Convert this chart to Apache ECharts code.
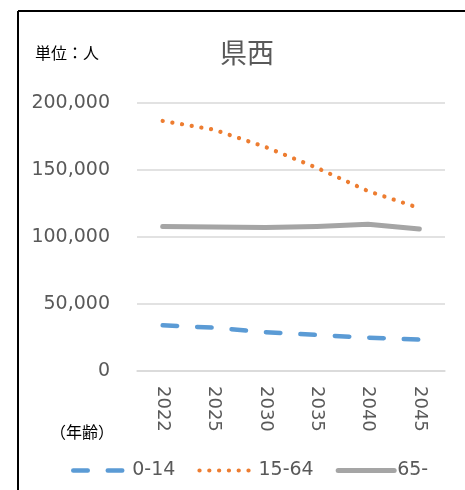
<!DOCTYPE html>
<html>
<head>
<meta charset="utf-8">
<script src="https://cdn.jsdelivr.net/npm/echarts@6/dist/echarts.min.js"></script>
<style>
  html, body { margin: 0; padding: 0; background: #fff; }
  #chart { width: 465px; height: 490px; }
</style>
</head>
<body>
<div id="chart"></div>
<script>
// Population projection by age group (persons)
const years = ['2022', '2025', '2030', '2035', '2040', '2045'];
const age0to14 = [34100, 32300, 29000, 26900, 24900, 23400];
const age15to64 = [186600, 180100, 167200, 151700, 134300, 121600];
const age65plus = [107800, 107500, 107000, 107900, 109600, 106000];
const seriesNames = ['0-14', '15-64', '65-'];
const yTicks = { min: 0, max: 200000, interval: 50000 };

const textColor = '#595959';
const latin = "'DejaVu Sans', 'Noto Sans CJK JP', sans-serif";
const cjk = "'Noto Sans CJK JP', sans-serif";

const styles = {
  '0-14': { color: '#5B9BD5', width: 4.5, type: [14.5, 20], cap: 'round' },
  '15-64': { color: '#ED7D31', width: 4.2, type: [0.1, 9.7], cap: 'round' },
  '65-': { color: '#A5A5A5', width: 5, type: 'solid', cap: 'round', join: 'round' }
};

const chart = echarts.init(document.getElementById('chart'), null, { renderer: 'canvas' });

chart.setOption({
  animation: false,
  backgroundColor: '#ffffff',
  grid: { left: 137, right: 20, top: 103, bottom: 119, containLabel: false },
  graphic: [
    { type: 'line', shape: { x1: 18, y1: 11, x2: 470, y2: 11 }, style: { stroke: '#000', lineWidth: 2 } },
    { type: 'line', shape: { x1: 18, y1: 11, x2: 18, y2: 495 }, style: { stroke: '#000', lineWidth: 2 } },
    { type: 'text', x: 247, y: 53, style: { text: '県西', font: '27px ' + cjk, fill: textColor, textAlign: 'center', textVerticalAlign: 'middle' } },
    { type: 'text', x: 67, y: 53, style: { text: '単位：人', font: '16px ' + cjk, fill: '#000', textAlign: 'center', textVerticalAlign: 'middle' } },
    { type: 'text', x: 82, y: 432, style: { text: '（年齢）', font: '16px ' + cjk, fill: '#000', textAlign: 'center', textVerticalAlign: 'middle' } }
  ],
  legend: {
    left: 66,
    top: 456,
    itemWidth: 56,
    itemHeight: 14,
    itemGap: 22,
    textStyle: { fontSize: 19, color: textColor, fontFamily: latin, padding: [0, 0, 0, -2] },
    data: seriesNames.map(n => ({
      name: n,
      itemStyle: { opacity: 0 },
      lineStyle: { width: styles[n].width, type: styles[n].type, cap: styles[n].cap, color: styles[n].color }
    }))
  },
  xAxis: {
    type: 'category',
    data: years,
    boundaryGap: true,
    axisLine: { show: true, lineStyle: { color: '#D9D9D9', width: 1.5 } },
    axisTick: { show: false },
    axisLabel: { rotate: -90, margin: 15, fontSize: 18, color: textColor, fontFamily: latin }
  },
  yAxis: {
    type: 'value',
    min: yTicks.min,
    max: yTicks.max,
    interval: yTicks.interval,
    axisLine: { show: false },
    axisTick: { show: false },
    splitLine: { lineStyle: { color: '#D9D9D9', width: 1.5 } },
    axisLabel: {
      margin: 27,
      fontSize: 19,
      color: textColor,
      fontFamily: latin,
      formatter: v => v.toLocaleString('en-US')
    }
  },
  series: [
    { name: '0-14', data: age0to14 },
    { name: '15-64', data: age15to64 },
    { name: '65-', data: age65plus }
  ].map(s => ({
    name: s.name,
    type: 'line',
    data: s.data,
    symbol: 'none',
    color: styles[s.name].color,
    lineStyle: styles[s.name]
  }))
});
</script>
</body>
</html>
